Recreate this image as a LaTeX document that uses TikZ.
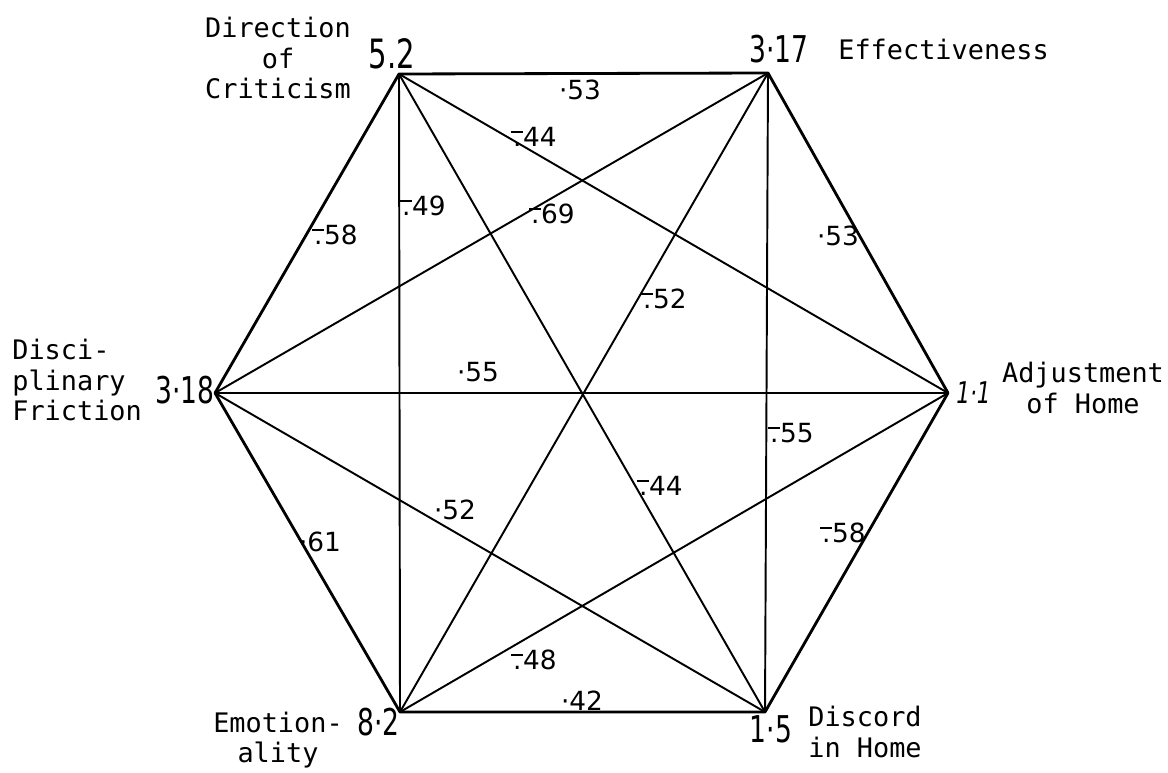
\documentclass[tikz,border=0pt]{standalone}
\usepackage{fontspec}
\setmainfont{DejaVu Sans}
\setmonofont{DejaVu Sans Mono}
\newfontfamily\numfont[FakeStretch=0.72]{DejaVu Sans}
\newcommand\ngd{\leavevmode\rlap{\raisebox{.5em}{\rule{.45em}{.1em}}}\hbox to .45em{\hss.\hss}}

\begin{document}
\begin{tikzpicture}[
  x=0.02cm,y=-0.02cm,
  side/.style={line width=1.6pt,line join=round},
  chord/.style={line width=1.1pt},
  vval/.style={inner sep=0pt,font=\numfont\fontsize{21}{22}\selectfont},
  lbl/.style={inner sep=0pt,font=\ttfamily\fontsize{15.3}{17.5}\selectfont},
  coef/.style={inner sep=0pt,font=\fontsize{15}{16}\selectfont}
]
\useasboundingbox (0,0) rectangle (1168,773);
\coordinate (dir) at (399,74);
\coordinate (eff) at (768,73);
\coordinate (adj) at (948,393);
\coordinate (dis) at (765,712);
\coordinate (emo) at (400,712);
\coordinate (fri) at (215,393);
\draw[side] (dir) -- (eff) -- (adj) -- (dis) -- (emo) -- (fri) -- cycle;
\foreach \a/\b in {dir/adj,dir/dis,dir/emo,eff/fri,eff/emo,eff/dis,fri/adj,fri/dis,adj/emo}
  \draw[chord] (\a) -- (\b);
\node[vval,anchor=base,font=\numfont\fontsize{23}{24}\selectfont] (dirv) at (392,69) {5.2};
\node[vval,anchor=base] (effv) at (779,63) {3·17};
\node[vval,anchor=base east] (friv) at (215,403) {3·18};
\node[vval,anchor=base west,font=\numfont\itshape\fontsize{17}{18}\selectfont] (adjv) at (956,403) {1·1};
\node[vval,anchor=base] (disv) at (771,742) {1·5};
\node[vval,anchor=base east] (emov) at (400,735) {8·2};
\node[lbl,align=center] (dirt) at (278,58) {Direction\\of\\Criticism};
\node[lbl,anchor=base west] (efft) at (838,60) {Effectiveness};
\node[lbl,align=left,anchor=west] (frit) at (12,380) {Disci-\\plinary\\Friction};
\node[lbl,align=center] (adjt) at (1083,388) {Adjustment\\of Home};
\node[lbl,align=left] (dist) at (865,732) {Discord\\in Home};
\node[lbl,align=center] (emot) at (278,740) {Emotion-\\ality};
\node[coef] (c1) at (580,90) {·53};
\node[coef] (c2) at (534,137) {\ngd44};
\node[coef] (c3) at (423,206) {\ngd49};
\node[coef] (c4) at (552,214) {\ngd69};
\node[coef] (c5) at (335,235) {\ngd58};
\node[coef] (c6) at (838,236) {·53};
\node[coef] (c7) at (664,299) {\ngd52};
\node[coef] (c8) at (478,372) {·55};
\node[coef] (c9) at (791,433) {\ngd55};
\node[coef] (c10) at (660,486) {\ngd44};
\node[coef] (c11) at (843,533) {\ngd58};
\node[coef] (c12) at (455,510) {·52};
\node[coef] (c13) at (320,542) {·61};
\node[coef] (c14) at (534,660) {\ngd48};
\node[coef] (c15) at (582,701) {·42};
\end{tikzpicture}
\end{document}
